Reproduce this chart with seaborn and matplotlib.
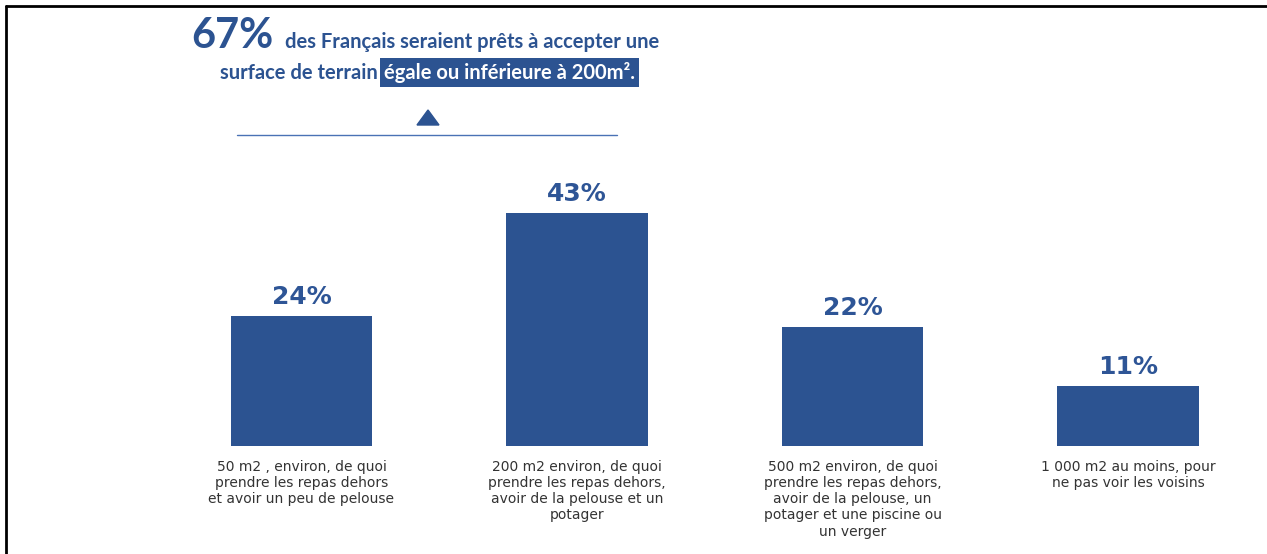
import matplotlib
matplotlib.use("Agg")
import matplotlib.pyplot as plt
from matplotlib.lines import Line2D
from matplotlib.patches import Polygon
import seaborn as sns
import pandas as pd

# Données
categories = [
    "50 m2 , environ, de quoi\nprendre les repas dehors\net avoir un peu de pelouse",
    "200 m2 environ, de quoi\nprendre les repas dehors,\navoir de la pelouse et un\npotager",
    "500 m2 environ, de quoi\nprendre les repas dehors,\navoir de la pelouse, un\npotager et une piscine ou\nun verger",
    "1 000 m2 au moins, pour\nne pas voir les voisins",
]
valeurs = [24, 43, 22, 11]
etiquettes = ["24%", "43%", "22%", "11%"]

BLEU = "#2C5391"
W, H = 1267, 554

sns.set_style("white")
plt.rcParams["font.family"] = ["DejaVu Sans"]

df = pd.DataFrame({"cat": categories, "val": valeurs})

fig = plt.figure(figsize=(W / 100, H / 100), dpi=100)
ax = fig.add_axes([163.75 / W, 108 / H, 1102 / W, 271 / H])

sns.barplot(data=df, x="cat", y="val", color=BLEU, width=0.515, ax=ax,
            saturation=1, edgecolor="none")
ax.set_xlim(-0.5, 3.5)
ax.set_ylim(0, 50)
ax.bar_label(ax.containers[0], labels=etiquettes, padding=5,
             fontsize=18, fontweight="bold", color="#2E5596")

ax.set_xlabel("")
ax.set_ylabel("")
ax.set_yticks([])
ax.tick_params(axis="x", length=0, pad=10, labelsize=10, labelcolor="#333333")
sns.despine(ax=ax, left=True, bottom=True)

# En-tête
fig.text(191 / W, 1 - 48 / H, "67%", fontsize=30, fontweight="bold",
         color=BLEU, family="Lato", ha="left", va="baseline")
fig.text(285 / W, 1 - 48 / H, "des Français seraient prêts à accepter une",
         fontsize=14.5, fontweight="bold", color=BLEU, family="Lato",
         ha="left", va="baseline")
fig.text(378 / W, 1 - 79 / H, "surface de terrain", fontsize=14.5,
         fontweight="bold", color=BLEU, family="Lato", ha="right", va="baseline")
fig.text(384 / W, 1 - 79 / H, "égale ou inférieure à 200m².", fontsize=14.5,
         fontweight="bold", color="white", family="Lato", ha="left", va="baseline",
         bbox=dict(boxstyle="square,pad=0.2", fc=BLEU, ec="none"))

# Triangle et trait
fig.add_artist(Polygon([(417 / W, 1 - 125 / H), (439 / W, 1 - 125 / H),
                        (428 / W, 1 - 110 / H)], closed=True,
                       transform=fig.transFigure, color=BLEU))
fig.add_artist(Line2D([237 / W, 617 / W], [1 - 135 / H, 1 - 135 / H],
                      transform=fig.transFigure, color="#4A72B5", lw=1))

# Cadre
fig.add_artist(Line2D([6 / W, 1], [1 - 6 / H, 1 - 6 / H],
                      transform=fig.transFigure, color="black", lw=2))
fig.add_artist(Line2D([6 / W, 6 / W], [0, 1 - 6 / H],
                      transform=fig.transFigure, color="black", lw=2))

fig.savefig("out.png", dpi=100)
